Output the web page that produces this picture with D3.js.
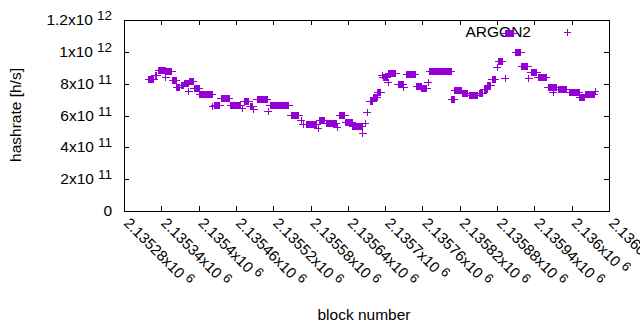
<!DOCTYPE html>
<html>
<head>
<meta charset="utf-8">
<script src="https://d3js.org/d3.v7.min.js"></script>
<style>
    body { margin: 0; background: #fff; }
    text { font-family: "Liberation Sans", Arial, sans-serif; fill: #000; }
</style>
</head>
<body>
<div id="chart"></div>
<script>

var runStart = [2135320, 2135330, 2135336, 2135347, 2135349, 2135358, 2135365, 2135372, 2135378, 2135384,
    2135385, 2135393, 2135402, 2135423, 2135426, 2135436, 2135452, 2135470, 2135473, 2135483,
    2135489, 2135494, 2135512, 2135515, 2135549, 2135565, 2135568, 2135573, 2135592, 2135595,
    2135605, 2135623, 2135627, 2135637, 2135648, 2135664, 2135668, 2135671, 2135676, 2135682,
    2135688, 2135695, 2135697, 2135705, 2135706, 2135721, 2135730, 2135735, 2135751, 2135759,
    2135769, 2135772, 2135807, 2135812, 2135824, 2135835, 2135851, 2135859, 2135865, 2135872,
    2135880, 2135883, 2135893, 2135894, 2135910, 2135920, 2135931, 2135935, 2135946, 2135962,
    2135970, 2135978, 2135996, 2136013, 2136023, 2136038];
var runEnd = [2135328, 2135333, 2135346, 2135347, 2135357, 2135364, 2135370, 2135376, 2135383, 2135384,
    2135391, 2135401, 2135422, 2135423, 2135434, 2135449, 2135468, 2135470, 2135481, 2135487,
    2135489, 2135510, 2135512, 2135545, 2135561, 2135565, 2135568, 2135590, 2135592, 2135602,
    2135621, 2135623, 2135635, 2135647, 2135663, 2135664, 2135668, 2135671, 2135680, 2135687,
    2135693, 2135695, 2135703, 2135705, 2135717, 2135729, 2135730, 2135748, 2135758, 2135767,
    2135769, 2135806, 2135811, 2135822, 2135833, 2135849, 2135857, 2135864, 2135870, 2135877,
    2135880, 2135888, 2135893, 2135907, 2135918, 2135929, 2135931, 2135944, 2135959, 2135976,
    2135970, 2135992, 2136012, 2136020, 2136036, 2136038];
var runValue = [8.29e11, 8.55e11, 8.89e11, 8.42e11, 8.80e11, 8.23e11, 7.79e11, 7.92e11, 8.04e11, 7.51e11,
    8.17e11, 7.73e11, 7.32e11, 6.57e11, 6.69e11, 7.07e11, 6.66e11, 6.47e11, 6.88e11, 6.60e11,
    6.41e11, 7.04e11, 6.28e11, 6.63e11, 6.03e11, 5.72e11, 5.47e11, 5.44e11, 5.22e11, 5.72e11,
    5.50e11, 5.28e11, 6.06e11, 5.59e11, 5.34e11, 4.90e11, 5.53e11, 6.22e11, 6.91e11, 7.16e11,
    7.48e11, 8.55e11, 8.42e11, 8.11e11, 8.67e11, 7.98e11, 7.79e11, 8.58e11, 7.85e11, 7.70e11,
    8.11e11, 8.77e11, 7.04e11, 7.60e11, 7.41e11, 7.29e11, 7.41e11, 7.67e11, 7.92e11, 8.29e11,
    9.05e11, 9.43e11, 8.36e11, 1.118e12, 9.99e11, 9.14e11, 8.36e11, 8.73e11, 8.42e11, 7.76e11,
    7.45e11, 7.67e11, 7.48e11, 7.16e11, 7.38e11, 7.51e11];

// axis ticks
var xTicks = [2135280, 2135340, 2135400, 2135460, 2135520, 2135580, 2135640,
    2135700, 2135760, 2135820, 2135880, 2135940, 2136000, 2136060];
var yTicks = [0, 2e11, 4e11, 6e11, 8e11, 1e12, 1.2e12];

var seriesName = "ARGON2";
var color = "#9400d3";

var width = 640, height = 330;
var plotLeft = 124, plotRight = 609, plotTop = 20, plotBottom = 211;
var half = 3; // half size of the "+" point

var svg = d3.select("#chart").append("svg")
    .attr("width", width)
    .attr("height", height);

svg.append("rect").attr("width", width).attr("height", height).attr("fill", "#fff");

var x = d3.scaleLinear().domain([xTicks[0], xTicks[xTicks.length - 1]]).range([plotLeft, plotRight]);
var y = d3.scaleLinear().domain([0, 1.2e12]).range([plotBottom, plotTop]);

/**
 * Split a number into mantissa and power of ten, like gnuplot's "%gx10^{%T}".
 */
function sci(v) {
    if (v == 0) return null;
    var e = Math.floor(Math.log10(v));
    var m = +(v / Math.pow(10, e)).toPrecision(8);
    return [String(m), String(e)];
}

// y tick labels
yTicks.forEach(function (t) {
    var s = sci(t);
    var txt = svg.append("text")
        .attr("x", 112)
        .attr("y", y(t) + 5)
        .attr("text-anchor", "end")
        .style("font-size", "15.5px");
    if (s == null) {
        txt.text("0");
    } else {
        txt.append("tspan").text(s[0] + "x10");
        txt.append("tspan").attr("dx", 4).attr("dy", -5).style("font-size", "13.5px").text(s[1]);
    }
});

// x tick labels, rotated down to the right
xTicks.forEach(function (t) {
    var s = sci(t);
    var txt = svg.append("text")
        .attr("transform", "translate(" + (x(t) - 1) + "," + (plotBottom + 13) + ") rotate(45)")
        .style("font-size", "15px");
    txt.append("tspan").text(s[0] + "x10");
    txt.append("tspan").attr("dx", 4).attr("dy", -5).style("font-size", "13px").text(s[1]);
});

// tick marks on all four sides
var ticks = svg.append("g").attr("stroke", "#000").attr("stroke-width", 1).attr("shape-rendering", "crispEdges");
yTicks.forEach(function (t) {
    var ty = Math.round(y(t)) + 0.5;
    ticks.append("line").attr("x1", plotLeft).attr("x2", plotLeft + 5).attr("y1", ty).attr("y2", ty);
    ticks.append("line").attr("x1", plotRight - 5).attr("x2", plotRight).attr("y1", ty).attr("y2", ty);
});
xTicks.forEach(function (t) {
    var tx = Math.round(x(t)) + 0.5;
    ticks.append("line").attr("x1", tx).attr("x2", tx).attr("y1", plotBottom).attr("y2", plotBottom - 5);
    ticks.append("line").attr("x1", tx).attr("x2", tx).attr("y1", plotTop).attr("y2", plotTop + 5);
});

// plot border
svg.append("rect")
    .attr("x", plotLeft + 0.5).attr("y", plotTop + 0.5)
    .attr("width", plotRight - plotLeft).attr("height", plotBottom - plotTop)
    .attr("fill", "none").attr("stroke", "#000").attr("shape-rendering", "crispEdges");

// legend
svg.append("text")
    .attr("x", 531).attr("y", 37)
    .attr("text-anchor", "end")
    .style("font-size", "15.5px")
    .text(seriesName);
svg.append("path")
    .attr("d", "M" + (567 - half) + "," + 32.5 + "h" + (2 * half + 1) + "M" + 567.5 + "," + (32 - half) + "v" + (2 * half + 1))
    .attr("stroke", color).attr("fill", "none").attr("shape-rendering", "crispEdges");

// points: one "+" per block, runs of equal value drawn as one stretched "+"
var runs = runStart.map(function (s, i) { return { start: s, end: runEnd[i], value: runValue[i] }; });
var pts = svg.append("g").attr("shape-rendering", "crispEdges");
runs.forEach(function (r) {
    var x0 = x(r.start), x1 = x(r.end), cy = y(r.value);
    pts.append("rect")
        .attr("x", x0 - 0.5).attr("y", cy - half)
        .attr("width", Math.max(1, x1 - x0 + 1)).attr("height", 2 * half + 1)
        .attr("fill", color);
    pts.append("rect")
        .attr("x", x0 - half - 1).attr("y", cy)
        .attr("width", x1 - x0 + 2 * half + 2).attr("height", 1)
        .attr("fill", color);
});

// axis titles
svg.append("text")
    .attr("transform", "translate(21,115) rotate(-90)")
    .attr("text-anchor", "middle")
    .style("font-size", "15.5px")
    .text("hashrate [h/s]");
svg.append("text")
    .attr("x", 364).attr("y", 320)
    .attr("text-anchor", "middle")
    .style("font-size", "15.5px")
    .text("block number");
</script>
</body>
</html>
